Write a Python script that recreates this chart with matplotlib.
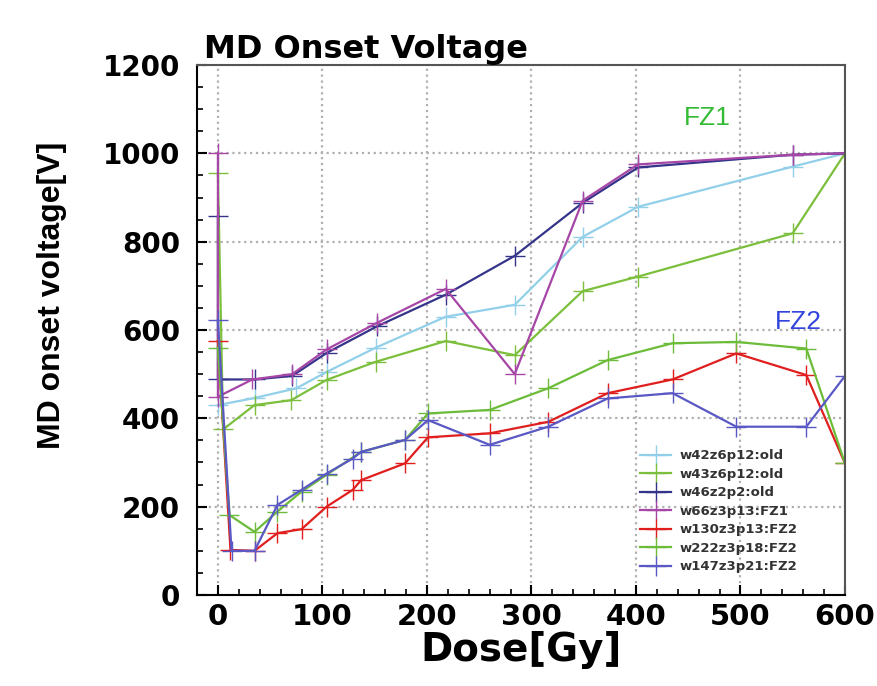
import matplotlib
matplotlib.use("Agg")
import matplotlib.pyplot as plt
from matplotlib.ticker import MultipleLocator

# dose [Gy] and MD onset voltage [V]
x_w42 = [0, 35, 75, 104, 151, 218, 284, 349, 402, 550, 600]
y_w42 = [430, 446, 468, 505, 560, 630, 657, 811, 879, 970, 1000]

x_w43 = [0, 5, 35, 70, 104, 151, 218, 284, 349, 402, 550, 600]
y_w43 = [955, 375, 430, 441, 487, 528, 575, 543, 688, 721, 819, 1000]

x_w46 = [0, 0, 35, 71, 104, 152, 218, 284, 349, 402, 550, 600]
y_w46 = [858, 488, 488, 496, 548, 608, 680, 768, 888, 968, 997, 1000]

x_w66 = [0, 0, 33, 71, 104, 152, 218, 284, 349, 402, 550, 600]
y_w66 = [1000, 449, 488, 500, 556, 616, 693, 500, 893, 975, 997, 1000]

x_w130 = [0, 12, 35, 57, 80, 104, 129, 137, 179, 201, 260, 316, 373, 435, 496, 563, 600]
y_w130 = [575, 102, 100, 140, 149, 200, 238, 260, 298, 357, 366, 392, 457, 488, 547, 498, 298]

x_w222 = [0, 11, 35, 57, 80, 104, 137, 179, 201, 260, 316, 373, 435, 496, 563, 600]
y_w222 = [559, 181, 143, 189, 234, 272, 324, 351, 411, 419, 468, 532, 570, 573, 558, 298]

x_w147 = [0, 13, 35, 57, 80, 104, 129, 137, 179, 201, 260, 316, 373, 435, 496, 563, 600]
y_w147 = [622, 100, 100, 204, 238, 275, 309, 324, 351, 396, 340, 381, 445, 457, 381, 381, 496]

series = [
    ("w42z6p12:old", x_w42, y_w42, "#92d0ea"),
    ("w43z6p12:old", x_w43, y_w43, "#7cbf3c"),
    ("w46z2p2:old", x_w46, y_w46, "#34348a"),
    ("w66z3p13:FZ1", x_w66, y_w66, "#a646a6"),
    ("w130z3p13:FZ2", x_w130, y_w130, "#e01e1e"),
    ("w222z3p18:FZ2", x_w222, y_w222, "#6cbc3a"),
    ("w147z3p21:FZ2", x_w147, y_w147, "#5a58c4"),
]

fig = plt.figure(figsize=(8.78, 6.86), dpi=100)
ax = fig.add_axes([0.2244, 0.1327, 0.738, 0.7725])

for label, xs, ys, color in series:
    ax.plot(xs, ys, color=color, lw=1.6, marker="+", markersize=15,
            markeredgewidth=1.0, label=label)

ax.set_xlim(-20, 600)
ax.set_ylim(0, 1200)
ax.xaxis.set_major_locator(MultipleLocator(100))
ax.xaxis.set_minor_locator(MultipleLocator(20))
ax.yaxis.set_major_locator(MultipleLocator(200))
ax.yaxis.set_minor_locator(MultipleLocator(50))
ax.tick_params(which="major", direction="in", length=7, width=1.5,
               top=False, right=False)
ax.tick_params(which="minor", direction="in", length=4, width=1.2,
               top=False, right=False)
ax.tick_params(axis="y", labelsize=20, pad=12)
ax.tick_params(axis="x", labelsize=21, pad=6)
for lab in ax.get_xticklabels() + ax.get_yticklabels():
    lab.set_fontweight("bold")
    lab.set_family("DejaVu Sans")

ax.grid(True, which="major", color="#b0b0b0", linestyle=":", linewidth=1.6)
for s in ax.spines.values():
    s.set_linewidth(1.5)
ax.spines["top"].set_color("#555555")
ax.spines["right"].set_color("#555555")

ax.set_xlabel("Dose[Gy]", fontsize=28, fontweight="bold",
              family="DejaVu Sans", labelpad=0)
ax.set_ylabel("MD onset voltage[V]", fontsize=23, fontweight="bold",
              family="Liberation Sans")
ax.yaxis.set_label_coords(-0.2, 0.565)
ax.set_title("MD Onset Voltage", fontsize=23, fontweight="bold",
             family="DejaVu Sans", loc="left", pad=3, x=0.01)

ax.text(468, 1080, "FZ1", color="#33bb33", fontsize=19,
        ha="center", va="center", family="Liberation Sans")
ax.text(555, 618, "FZ2", color="#3344dd", fontsize=19,
        ha="center", va="center", family="Liberation Sans")

leg = ax.legend(loc="upper left", bbox_to_anchor=(0.675, 0.285),
                frameon=False, handlelength=2.4,
                handletextpad=0.6, labelspacing=0.42, borderaxespad=0,
                prop={"weight": "bold", "size": 9.5})
for t in leg.get_texts():
    t.set_color("#333333")

fig.savefig("out.png", dpi=100)
